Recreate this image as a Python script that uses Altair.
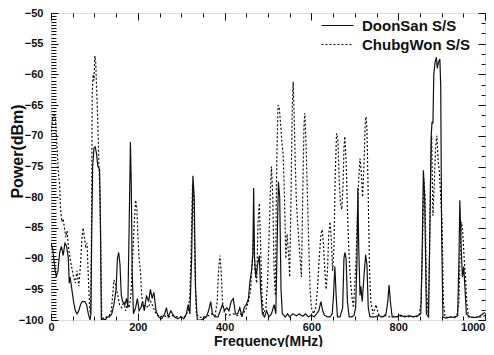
import altair as alt
import pandas as pd

series_names = ["DoonSan S/S", "ChubgWon S/S"]

doonsan = [(0,-87.5),(4,-88.5),(8,-91),(12,-93),(16,-92),(20,-89),(24,-88),(28,-89.5),(32,-87.5),(36,-88),(40,-90),(42,-94),(44,-93),(48,-95),(52,-97),(56,-98.5),(60,-99),(64,-98.5),(68,-97.5),(72,-97),(78,-97),(82,-97.5),(86,-99),(90,-100),(92,-99),(94,-85),(96,-75),(99,-72),(102,-71.8),(105,-73),(108,-75),(112,-75.5),(114,-85),(116,-100),(120,-99.8),(125,-100),(130,-99.5),(135,-99.5),(140,-99),(145,-97.5),(150,-95),(153,-90),(156,-89),(159,-91),(162,-96),(165,-97),(170,-97.5),(174,-96.5),(177,-98),(180,-85),(183,-71),(185,-78),(187,-92),(190,-99),(195,-98),(199,-96.5),(203,-98.5),(207,-98),(211,-97),(215,-98.5),(220,-96),(225,-97),(229,-95),(233,-96.5),(237,-95.5),(242,-98.5),(248,-99.5),(255,-99.8),(262,-99),(266,-98),(270,-99.5),(276,-98.5),(280,-99),(285,-99.5),(292,-99.8),(300,-99.5),(306,-99.8),(312,-99),(316,-97.5),(320,-99),(324,-90),(327,-76.5),(330,-80),(333,-95),(337,-100),(345,-100),(352,-99.8),(358,-99.5),(363,-98.5),(368,-97),(372,-99),(378,-99.5),(385,-99.5),(390,-98.5),(395,-97.5),(400,-98.5),(405,-98),(410,-98.5),(415,-97),(420,-96.5),(425,-99),(430,-99),(435,-98),(440,-99.5),(445,-98),(450,-97.5),(455,-96.5),(458,-94),(462,-92),(465,-89.5),(467,-78.5),(469,-90),(472,-93),(476,-91),(480,-89.5),(483,-95),(487,-99),(492,-99.5),(497,-98.5),(502,-99.5),(508,-99),(514,-97.5),(518,-99),(521,-88),(524,-77.5),(527,-80),(530,-95),(533,-99),(540,-99.5),(545,-99),(550,-99.5),(557,-99),(565,-99.3),(572,-99),(580,-99.4),(587,-99),(593,-99.5),(600,-99.2),(606,-99.5),(612,-99),(617,-98.5),(622,-97),(626,-98.5),(630,-99.2),(637,-99.5),(643,-99.5),(648,-99),(651,-96),(654,-91.3),(657,-96),(660,-99.5),(666,-99.5),(672,-98),(675,-90),(677,-89),(680,-90),(683,-97),(687,-99.5),(693,-99.5),(698,-99.3),(702,-98),(705,-90),(707,-78.5),(709,-88),(712,-96),(714,-94.5),(717,-97),(721,-93),(725,-89.4),(728,-91),(731,-98),(735,-99.5),(745,-99.5),(755,-99.3),(765,-99.5),(772,-99),(776,-97),(779,-94.3),(782,-97),(786,-99.5),(795,-99.5),(805,-99.2),(815,-99.5),(825,-99.3),(835,-99.5),(845,-99.3),(852,-99),(855,-90),(858,-75.6),(861,-80),(865,-99),(870,-99.5),(873,-85),(876,-70),(878,-67.7),(880,-68),(882,-60),(885,-58),(888,-57.2),(890,-59),(893,-58),(896,-57.5),(898,-62),(900,-85),(903,-99.5),(910,-99.7),(920,-99.5),(930,-99.6),(937,-99.3),(940,-90),(942,-80.5),(945,-88),(948,-93),(951,-91.3),(954,-95),(957,-99),(965,-99.5),(975,-99.6),(985,-99.5),(995,-99),(1000,-98.8)]

chubgwon = [(0,-70),(4,-67),(8,-66),(11,-68),(14,-72),(17,-76),(20,-78),(22,-82),(25,-84),(28,-83.5),(31,-85),(34,-86.5),(37,-85.5),(40,-88),(44,-90),(48,-91.5),(52,-93),(56,-94),(60,-92),(64,-94.5),(68,-91),(71,-87),(74,-85),(77,-86.5),(80,-88),(83,-87.5),(86,-93),(89,-98),(91,-99),(93,-88),(95,-63),(97,-60),(99,-61),(101,-57),(103,-58),(105,-62),(107,-66),(109,-71),(111,-76),(113,-80),(115,-90),(117,-99.5),(122,-99.8),(128,-99.5),(134,-99.3),(139,-98.5),(142,-96),(145,-93.5),(148,-94),(151,-95),(154,-96),(158,-97.5),(163,-98),(168,-97),(172,-98.5),(176,-97.5),(180,-98),(184,-96),(188,-90),(192,-84),(195,-80.5),(198,-82),(200,-86),(203,-90),(206,-92),(209,-96),(213,-98),(218,-97.5),(224,-98),(230,-97),(236,-98),(242,-99),(250,-99.5),(260,-99.3),(270,-99.5),(280,-99.3),(290,-99.5),(300,-99.5),(310,-99.4),(316,-98.5),(320,-96),(323,-88),(326,-78),(329,-80),(332,-92),(335,-99),(342,-99.6),(350,-99.5),(360,-99.4),(370,-99),(378,-99.3),(383,-97),(386,-92),(389,-89.5),(392,-92),(395,-97),(400,-99),(410,-99.2),(420,-99),(430,-99.3),(440,-99),(448,-98.5),(455,-97),(460,-95),(464,-90),(467,-86.5),(470,-92),(474,-94),(477,-84),(480,-81),(483,-88),(486,-96),(490,-99),(495,-98),(499,-94),(503,-85),(506,-78),(508,-75),(511,-80),(514,-92),(517,-96),(520,-75),(523,-65),(526,-65.5),(529,-68),(532,-71),(535,-73),(538,-80),(541,-90),(544,-86),(547,-89),(550,-93),(553,-80),(556,-65),(558,-61.2),(560,-66),(562,-72),(565,-80),(568,-84),(571,-87),(574,-90),(577,-93),(580,-80),(583,-68),(585,-66.3),(588,-72),(591,-80),(594,-88),(597,-95),(600,-98),(605,-99),(610,-98),(614,-95),(618,-90),(622,-86),(625,-85.3),(628,-88),(631,-92),(634,-95),(637,-92),(640,-86),(643,-84),(646,-87),(649,-92),(652,-88),(655,-76),(658,-69.6),(661,-70.5),(664,-77),(667,-81),(670,-82),(673,-78),(675,-72),(677,-70.1),(680,-74),(683,-82),(686,-88),(689,-92.4),(693,-96),(697,-98),(700,-94),(703,-90),(706,-83),(709,-77),(712,-73.7),(715,-76),(718,-80),(721,-75),(724,-68),(726,-66.9),(728,-69),(731,-80),(734,-92),(737,-97),(742,-99),(749,-97.5),(754,-99),(760,-99.5),(770,-99.3),(780,-99.5),(790,-99.4),(800,-99.5),(810,-99.3),(820,-99.5),(830,-99.4),(840,-99.5),(848,-99.3),(853,-97),(856,-88),(859,-77),(862,-80),(865,-95),(869,-99),(872,-90),(875,-74),(877,-70),(880,-83),(883,-78),(886,-72),(889,-70),(892,-74),(895,-76),(898,-80),(901,-84),(904,-97),(908,-99.5),(915,-99.6),(925,-99.5),(935,-99.4),(940,-97),(943,-88),(946,-84),(949,-86),(952,-90),(955,-93),(958,-97),(962,-99.5),(975,-99.6),(990,-99.5),(1000,-99.3)]

x_major = [0, 200, 400, 600, 800, 1000]
x_minor = [0, 50, 100, 150, 200, 250, 300, 350, 400, 450, 500, 550, 600, 650, 700, 750, 800, 850, 900, 950, 1000]
y_major = [-100, -95, -90, -85, -80, -75, -70, -65, -60, -55, -50]
y_left_minor = [-100 + 0.5 * i for i in range(101)]
y_right_minor = [-100 + 5 * i / 3 for i in range(31)]

rows = []
for f, p in doonsan:
    rows.append({"freq": f, "power": p, "series": series_names[0]})
for f, p in chubgwon:
    rows.append({"freq": f, "power": p, "series": series_names[1]})
df = pd.DataFrame(rows)

FONT = "Liberation Sans"
xscale = alt.Scale(domain=[0, 1000], nice=False, zero=False)
yscale = alt.Scale(domain=[-100, -50], nice=False, zero=False)

def tick_axis(orient, values, size):
    return alt.Axis(orient=orient, values=values, tickSize=size, offset=-size,
                    domain=False, labels=False, grid=False, title="",
                    tickColor="#111", tickWidth=1)

lines = alt.Chart(df).mark_line(strokeWidth=1.2, color="#111", clip=True).encode(
    x=alt.X("freq:Q", scale=xscale,
            axis=alt.Axis(orient="bottom", values=x_major, format="d", tickSize=7, offset=-7,
                          domain=False, grid=False, labelFont=FONT, labelFontSize=11,
                          labelFontWeight="bold", labelColor="#111", labelPadding=10,
                          labelBaseline="alphabetic", labelFlush=False,
                          labelAlign=alt.expr("datum.value == 1000 ? 'right' : 'center'"),
                          tickColor="#111",
                          title="Frequency(MHz)", titleFont=FONT, titleFontSize=14,
                          titleFontWeight="bold", titleColor="#111",
                          titleY=32, titleBaseline="alphabetic")),
    y=alt.Y("power:Q", scale=yscale,
            axis=alt.Axis(orient="left", values=y_major, tickSize=7, offset=-7,
                          domain=False, grid=False, labelFont=FONT, labelFontSize=11,
                          labelFontWeight="bold", labelColor="#111", labelPadding=8,
                          tickColor="#111",
                          title="Power(dBm)", titleFont=FONT, titleFontSize=16,
                          titleFontWeight="bold", titleColor="#111",
                          titleX=-41, titleY=138, titleBaseline="middle")),
    strokeDash=alt.StrokeDash("series:N",
                              scale=alt.Scale(domain=series_names, range=[[1, 0], [2, 2]]),
                              legend=alt.Legend(orient="none", legendX=267, legendY=5,
                                                title=None, labelFont=FONT, labelFontSize=15,
                                                labelFontWeight="bold", labelColor="#111",
                                                symbolType="M-1,0H7", symbolSize=64,
                                                symbolStrokeWidth=1.2, symbolStrokeColor="#111",
                                                labelOffset=29, rowPadding=3, padding=0)),
)

def ghost(xaxis, yaxis):
    return alt.Chart(df).mark_point(opacity=0).encode(
        x=alt.X("freq:Q", scale=xscale, axis=xaxis),
        y=alt.Y("power:Q", scale=yscale, axis=yaxis),
    )

g1 = ghost(tick_axis("bottom", x_minor, 4), tick_axis("left", y_left_minor, 5))
g2 = ghost(tick_axis("top", x_major, 7), tick_axis("right", y_major, 7))
g3 = ghost(tick_axis("top", x_minor, 4), tick_axis("right", y_right_minor, 4))

chart = alt.layer(lines, g1, g2, g3).resolve_axis(x="independent", y="independent").properties(
    width=434, height=307,
    autosize=alt.AutoSizeParams(type="none"),
    padding={"left": 43, "top": 5, "right": 1, "bottom": 27},
).configure_view(stroke="#111", strokeWidth=1.5).configure(background="white")

chart.save("out.html", embed_options={"renderer": "svg", "actions": False})
